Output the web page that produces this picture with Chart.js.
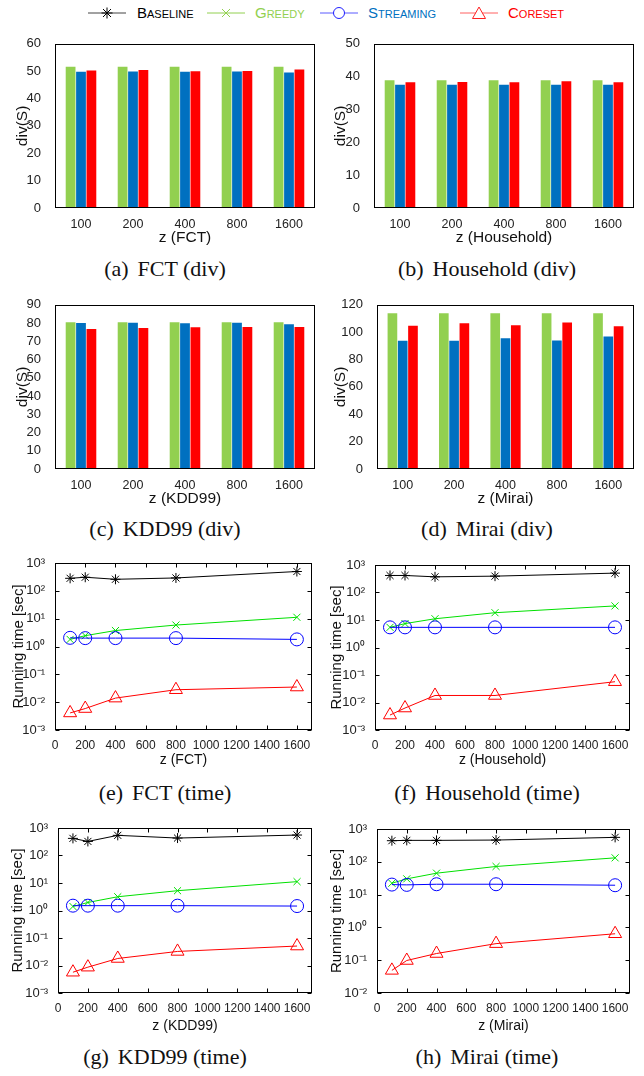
<!DOCTYPE html>
<html>
<head>
<meta charset="utf-8">
<script src="https://cdn.jsdelivr.net/npm/chart.js@4.4.0/dist/chart.umd.min.js"></script>
<style>
  body { margin: 0; background: #fff; width: 644px; height: 1076px; position: relative; overflow: hidden; font-family: "Liberation Sans", Arial, sans-serif; }
  canvas { position: absolute; }
  .cap { position: absolute; width: 322px; text-align: center; font-family: "Liberation Serif", "Times New Roman", serif; font-size: 22px; color: #111; line-height: 26px; }
  .cap b { font-weight: normal; margin-right: 9px; }
  .leg { position: absolute; top: 4px; font-size: 15px; font-variant: small-caps; line-height: 18px; }
  .legicon { position: absolute; top: 5px; }
</style>
</head>
<body>

<svg class="legicon" style="left:88px" width="38" height="16">
  <line x1="0" y1="8" x2="38" y2="8" stroke="#444" stroke-width="1"/>
  <g stroke="#000" stroke-width="1">
    <line x1="13.5" y1="8" x2="24.5" y2="8"/><line x1="19" y1="2.5" x2="19" y2="13.5"/>
    <line x1="15" y1="4" x2="23" y2="12"/><line x1="23" y1="4" x2="15" y2="12"/>
  </g>
</svg>
<span class="leg" style="left:137px;color:#000">Baseline</span>

<svg class="legicon" style="left:207px" width="38" height="16">
  <line x1="0" y1="8" x2="38" y2="8" stroke="#92d050" stroke-width="1"/>
  <line x1="15" y1="4" x2="23" y2="12" stroke="#92d050"/><line x1="23" y1="4" x2="15" y2="12" stroke="#92d050"/>
</svg>
<span class="leg" style="left:255px;color:#92d050">Greedy</span>

<svg class="legicon" style="left:320px" width="38" height="16">
  <line x1="0" y1="8" x2="38" y2="8" stroke="#5a5aff" stroke-width="1"/>
  <circle cx="19" cy="8" r="5.5" fill="#fff" stroke="#2020ff"/>
</svg>
<span class="leg" style="left:368px;color:#0070c0">Streaming</span>

<svg class="legicon" style="left:460px" width="38" height="16">
  <line x1="0" y1="8" x2="38" y2="8" stroke="#ff6060" stroke-width="1"/>
  <polygon points="19,2 12.5,13.5 25.5,13.5" fill="#fff" stroke="#ff2020"/>
</svg>
<span class="leg" style="left:508px;color:#ff0000">Coreset</span>

<div class="cap" style="left:4px;top:256px"><b>(a)</b>FCT (div)</div>
<div class="cap" style="left:326px;top:256px"><b>(b)</b>Household (div)</div>
<div class="cap" style="left:4px;top:516px"><b>(c)</b>KDD99 (div)</div>
<div class="cap" style="left:326px;top:516px"><b>(d)</b>Mirai (div)</div>
<div class="cap" style="left:4px;top:780px"><b>(e)</b>FCT (time)</div>
<div class="cap" style="left:326px;top:780px"><b>(f)</b>Household (time)</div>
<div class="cap" style="left:4px;top:1044px"><b>(g)</b>KDD99 (time)</div>
<div class="cap" style="left:326px;top:1044px"><b>(h)</b>Mirai (time)</div>

<script>
// x values, shared by every panel
const zLabels = ['100', '200', '400', '800', '1600'];
const zValues = [100, 200, 400, 800, 1600];
const xTicks = [0, 200, 400, 600, 800, 1000, 1200, 1400, 1600];

// div(S) - bar panels
const fctDivGreedy = [51.6, 51.6, 51.6, 51.6, 51.6];
const fctDivStreaming = [49.8, 49.9, 49.8, 49.9, 49.5];
const fctDivCoreset = [50.2, 50.4, 50.0, 50.1, 50.6];

const hhDivGreedy = [38.9, 38.9, 38.9, 38.9, 38.9];
const hhDivStreaming = [37.5, 37.5, 37.5, 37.5, 37.5];
const hhDivCoreset = [38.3, 38.4, 38.3, 38.6, 38.3];

const kddDivGreedy = [80.4, 80.4, 80.4, 80.4, 80.4];
const kddDivStreaming = [80.0, 80.2, 79.9, 80.2, 79.3];
const kddDivCoreset = [76.8, 77.3, 77.7, 77.9, 77.9];

const miraiDivGreedy = [113.8, 113.8, 113.8, 113.8, 113.8];
const miraiDivStreaming = [93.7, 93.7, 95.6, 94.0, 96.9];
const miraiDivCoreset = [104.6, 106.5, 105.1, 107.0, 104.3];

// running time [sec] - line panels
const fctTimeBaseline = [282, 308, 260, 290, 495];
const fctTimeGreedy = [1.8, 2.45, 3.74, 5.9, 11.2];
const fctTimeStreaming = [2.05, 2.0, 2.0, 2.0, 1.8];
const fctTimeCoreset = [0.0041, 0.0059, 0.014, 0.028, 0.035];

const hhTimeBaseline = [416, 416, 371, 393, 507];
const hhTimeGreedy = [5.4, 7.4, 11.1, 18.4, 32.5];
const hhTimeStreaming = [5.4, 5.4, 5.4, 5.4, 5.4];
const hhTimeCoreset = [0.0035, 0.0063, 0.018, 0.018, 0.057];

const kddTimeBaseline = [419, 325, 540, 431, 555];
const kddTimeGreedy = [1.4, 1.96, 3.16, 5.25, 11.2];
const kddTimeStreaming = [1.5, 1.5, 1.5, 1.5, 1.45];
const kddTimeCoreset = [0.0057, 0.0087, 0.018, 0.0325, 0.051];

const miraiTimeBaseline = [440, 450, 450, 460, 556];
const miraiTimeGreedy = [22.2, 30.2, 45, 72, 132];
const miraiTimeStreaming = [20.2, 19.8, 20.7, 20.7, 19.3];
const miraiTimeCoreset = [0.049, 0.098, 0.16, 0.32, 0.64];

const logTicks3 = [1e-3, 1e-2, 1e-1, 1, 1e1, 1e2, 1e3];
const logTicks2 = [1e-2, 1e-1, 1, 1e1, 1e2, 1e3];

const FONT = '"Liberation Sans", Arial, sans-serif';
const SUP = { '-': '\u207b', '0': '\u2070', '1': '\u00b9', '2': '\u00b2', '3': '\u00b3' };
const pow10 = v => '10' + String(Math.round(Math.log10(v))).split('').map(c => SUP[c]).join('');

// black box round the plot area, with inward ticks for the line panels
const frame = {
  id: 'frame',
  afterDraw(chart, args, opts) {
    const { ctx, chartArea: a } = chart;
    const L = Math.round(a.left) + 0.5, R = Math.round(a.right) - 0.5;
    const T = Math.round(a.top) + 0.5, B = Math.round(a.bottom) - 0.5;
    ctx.save();
    ctx.strokeStyle = '#000';
    ctx.lineWidth = 1;
    ctx.strokeRect(L, T, R - L, B - T);
    if (opts.ticks) {
      const xs = chart.scales.x, ys = chart.scales.y, len = 4;
      ctx.beginPath();
      xs.ticks.forEach(t => {
        const px = Math.round(xs.getPixelForValue(t.value)) + 0.5;
        ctx.moveTo(px, B); ctx.lineTo(px, B - len);
        ctx.moveTo(px, T); ctx.lineTo(px, T + len);
      });
      ys.ticks.forEach(t => {
        const py = Math.round(ys.getPixelForValue(t.value)) + 0.5;
        ctx.moveTo(L, py); ctx.lineTo(L + len, py);
        ctx.moveTo(R, py); ctx.lineTo(R - len, py);
      });
      ctx.stroke();
    }
    ctx.restore();
  }
};

// p = plot area in page pixels, xh = height of x axis block, ty = y title offset
function makePanel(left, p, xh, ty, type, data, scales, ticksOn) {
  const top = p.t - 12;
  const cv = document.createElement('canvas');
  cv.width = 322;
  cv.height = p.b + xh - top;
  cv.style.left = left + 'px';
  cv.style.top = top + 'px';
  document.body.appendChild(cv);
  scales.x.afterFit = s => { s.height = xh; };
  scales.y.afterFit = s => { s.width = p.l - left; };
  scales.y.title.padding = { top: ty, bottom: 0 };
  new Chart(cv, {
    type: type,
    data: data,
    options: {
      responsive: false,
      animation: false,
      layout: { padding: { top: 12, right: left + 322 - p.r, left: 0, bottom: 0 } },
      plugins: { legend: { display: false }, tooltip: { enabled: false }, frame: { ticks: ticksOn } },
      scales: scales
    },
    plugins: [frame]
  });
}

function barPanel(left, p, xTitle, max, step, g, s, c, ty) {
  const data = {
    labels: zLabels,
    datasets: [
      { data: g, backgroundColor: '#92d050' },
      { data: s, backgroundColor: '#0070c0' },
      { data: c, backgroundColor: '#ff0000' }
    ].map(d => Object.assign(d, { borderWidth: 0, categoryPercentage: 0.6, barPercentage: 0.94 }))
  };
  const scales = {
    x: {
      grid: { display: false }, border: { display: false },
      ticks: { color: '#222', font: { family: FONT, size: 12.5 }, padding: 1, maxRotation: 0 },
      title: { display: true, text: xTitle, color: '#111', font: { family: FONT, size: 15.5 }, padding: { top: 0, bottom: 2 } }
    },
    y: {
      min: 0, max: max,
      grid: { display: false }, border: { display: false },
      ticks: { stepSize: step, color: '#222', font: { family: FONT, size: 13 }, padding: 6, autoSkip: false },
      title: { display: true, text: 'div(S)', color: '#111', font: { family: FONT, size: 15.5 } }
    }
  };
  makePanel(left, p, 41, ty, 'bar', data, scales, false);
}

function linePanel(left, p, xh, xTitle, logTicks, b, g, s, c, ty) {
  const pts = arr => arr.map((v, i) => ({ x: zValues[i], y: v }));
  const base = { borderWidth: 1, pointBorderWidth: 1, pointBackgroundColor: 'rgba(0,0,0,0)', fill: false, tension: 0 };
  const data = {
    datasets: [
      { data: pts(c), borderColor: '#ff0000', pointBorderColor: '#ff0000', pointStyle: 'triangle', pointRadius: 7.5 },
      { data: pts(s), borderColor: '#0000ff', pointBorderColor: '#0000ff', pointStyle: 'circle', pointRadius: 6.5 },
      { data: pts(g), borderColor: '#00e000', pointBorderColor: '#00e000', pointStyle: 'crossRot', pointRadius: 5 },
      { data: pts(b), borderColor: '#000000', pointBorderColor: '#000000', pointStyle: 'star', pointRadius: 5 }
    ].map(d => Object.assign({}, base, d))
  };
  const scales = {
    x: {
      type: 'linear', min: 0, max: 1700,
      afterBuildTicks: sc => { sc.ticks = xTicks.map(v => ({ value: v })); },
      grid: { display: false }, border: { display: false },
      ticks: { color: '#222', font: { family: FONT, size: 12 }, padding: 0, maxRotation: 0, autoSkip: false, callback: v => String(v) },
      title: { display: true, text: xTitle, color: '#111', font: { family: FONT, size: 14 }, padding: { top: 0, bottom: 2 } }
    },
    y: {
      type: 'logarithmic', min: logTicks[0], max: logTicks[logTicks.length - 1],
      afterBuildTicks: sc => { sc.ticks = logTicks.map(v => ({ value: v, major: true })); },
      grid: { display: false }, border: { display: false },
      ticks: { color: '#222', font: { family: FONT, size: 13 }, padding: 2, autoSkip: false, callback: v => pow10(v) },
      title: { display: true, text: 'Running time [sec]', color: '#111', font: { family: FONT, size: 15 } }
    }
  };
  makePanel(left, p, xh, ty, 'line', data, scales, true);
}

barPanel(0, { l: 55, r: 315, t: 42, b: 208 }, 'z (FCT)', 60, 10, fctDivGreedy, fctDivStreaming, fctDivCoreset, 13);
barPanel(322, { l: 374, r: 634, t: 42, b: 208 }, 'z (Household)', 50, 10, hhDivGreedy, hhDivStreaming, hhDivCoreset, 9);
barPanel(0, { l: 55, r: 315, t: 303, b: 469 }, 'z (KDD99)', 90, 10, kddDivGreedy, kddDivStreaming, kddDivCoreset, 13);
barPanel(322, { l: 377, r: 634, t: 303, b: 469 }, 'z (Mirai)', 120, 20, miraiDivGreedy, miraiDivStreaming, miraiDivCoreset, 9);

linePanel(0, { l: 55, r: 312, t: 563, b: 730 }, 41, 'z (FCT)', logTicks3, fctTimeBaseline, fctTimeGreedy, fctTimeStreaming, fctTimeCoreset, 10);
linePanel(322, { l: 375, r: 630, t: 565, b: 730 }, 41, 'z (Household)', logTicks3, hhTimeBaseline, hhTimeGreedy, hhTimeStreaming, hhTimeCoreset, 6);
linePanel(0, { l: 58, r: 312, t: 828, b: 993 }, 44, 'z (KDD99)', logTicks3, kddTimeBaseline, kddTimeGreedy, kddTimeStreaming, kddTimeCoreset, 9);
linePanel(322, { l: 377, r: 630, t: 829, b: 993 }, 44, 'z (Mirai)', logTicks2, miraiTimeBaseline, miraiTimeGreedy, miraiTimeStreaming, miraiTimeCoreset, 6);
</script>
</body>
</html>
